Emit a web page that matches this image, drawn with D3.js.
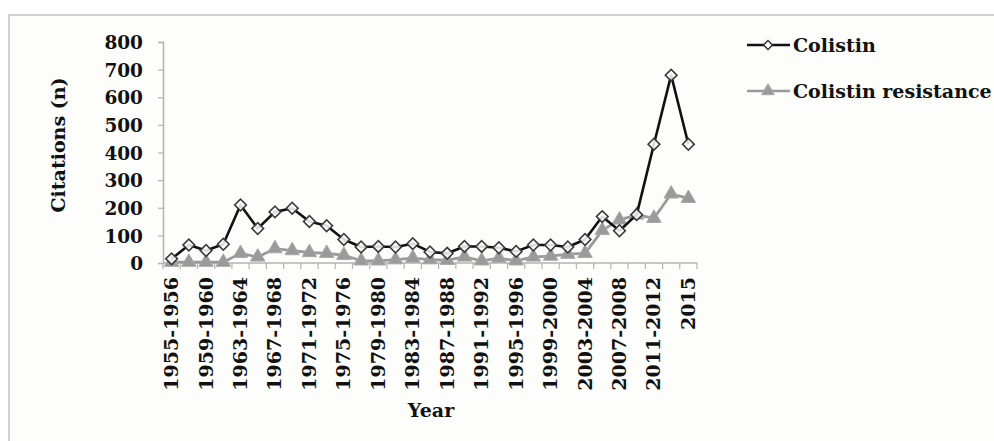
<!DOCTYPE html>
<html>
<head>
<meta charset="utf-8">
<script src="https://cdn.jsdelivr.net/npm/d3@7"></script>
<style>
  html, body { margin: 0; padding: 0; background: #ffffff; }
  svg { display: block; }
  text { font-family: "DejaVu Serif", serif; font-weight: bold; fill: #111; }
</style>
</head>
<body>
<svg id="chart" width="994" height="441"></svg>
<script>
const categories = ["1955-1956","1957-1958","1959-1960","1961-1962","1963-1964","1965-1966","1967-1968","1969-1970","1971-1972","1973-1974","1975-1976","1977-1978","1979-1980","1981-1982","1983-1984","1985-1986","1987-1988","1989-1990","1991-1992","1993-1994","1995-1996","1997-1998","1999-2000","2001-2002","2003-2004","2005-2006","2007-2008","2009-2010","2011-2012","2013-2014","2015"];
const colistin = [15, 65, 45, 68, 210, 125, 185, 198, 150, 135, 85, 58, 60, 58, 70, 40, 35, 60, 60, 55, 42, 65, 65, 58, 85, 168, 117, 175, 430, 680, 430];
const colistinResistance = [3, 3, 3, 3, 35, 22, 52, 45, 38, 35, 28, 8, 8, 12, 18, 12, 10, 22, 8, 18, 8, 22, 25, 32, 35, 118, 156, 174, 162, 250, 234];
const yTicks = [0, 100, 200, 300, 400, 500, 600, 700, 800];
const seriesNames = ["Colistin", "Colistin resistance"];

const svg = d3.select("#chart");

// outer frame
svg.append("rect").attr("x", 9).attr("y", 15).attr("width", 1000).attr("height", 440)
  .attr("fill", "#fdfdfb").attr("stroke", "#c4c4c4").attr("stroke-width", 1.5);

const pLeft = 163, pRight = 697, pTop = 42, pBottom = 263;

const x = d3.scaleBand().domain(categories).range([pLeft, pRight]).padding(0);
const y = d3.scaleLinear().domain([0, 800]).range([pBottom, pTop]);
const cx = d => x(d) + x.bandwidth() / 2;

// Y axis
const yAxis = d3.axisLeft(y).tickValues(yTicks).tickSize(5).tickPadding(15).tickFormat(d3.format("d"));
const gy = svg.append("g").attr("transform", `translate(${pLeft},0)`).call(yAxis);
gy.select(".domain").attr("stroke", "#b3b3b3").attr("stroke-width", 1.5);
gy.selectAll(".tick line").attr("stroke", "#b3b3b3").attr("stroke-width", 1.2);
gy.selectAll(".tick text").style("font-size", "18.5px").attr("fill", "#111").attr("dy", "0.36em");

// X axis (tick marks between categories, Excel style)
const gx = svg.append("g").attr("transform", `translate(0,${pBottom})`);
gx.append("line").attr("x1", pLeft).attr("x2", pRight).attr("y1", 0).attr("y2", 0)
  .attr("stroke", "#b3b3b3").attr("stroke-width", 1.5);
const boundaries = categories.map(c => x(c)).concat([pRight]);
gx.selectAll("line.tk").data(boundaries).enter().append("line").attr("class", "tk")
  .attr("x1", d => d).attr("x2", d => d).attr("y1", 0).attr("y2", 6)
  .attr("stroke", "#b3b3b3").attr("stroke-width", 1.2);
gx.selectAll("text.xl").data(categories.filter((c, i) => i % 2 === 0)).enter().append("text")
  .attr("class", "xl")
  .attr("transform", d => `translate(${cx(d) + 6.5},${14}) rotate(-90)`)
  .attr("text-anchor", "end")
  .style("font-size", "19px")
  .text(d => d);

// axis titles
svg.append("text").attr("x", 431).attr("y", 417).attr("text-anchor", "middle")
  .style("font-size", "19px").text("Year");
svg.append("text").attr("transform", `translate(65,145) rotate(-90)`)
  .attr("text-anchor", "middle").style("font-size", "19px").text("Citations (n)");

const line = d3.line().x((d, i) => cx(categories[i])).y(d => y(d));

// Resistance series (drawn first, behind)
svg.append("path").datum(colistinResistance).attr("d", line)
  .attr("fill", "none").attr("stroke", "#9a9a9a").attr("stroke-width", 2.8).attr("stroke-linejoin", "round");
const tri = d3.symbol().type(d3.symbolTriangle).size(90);
svg.selectAll("path.tri").data(colistinResistance).enter().append("path").attr("class", "tri")
  .attr("d", tri).attr("transform", (d, i) => `translate(${cx(categories[i])},${y(d)})`)
  .attr("fill", "#9a9a9a").attr("stroke", "#a8a8a8").attr("stroke-width", 1);

// Colistin series
svg.append("path").datum(colistin).attr("d", line)
  .attr("fill", "none").attr("stroke", "#111").attr("stroke-width", 2.6).attr("stroke-linejoin", "round");
const dia = d3.symbol().type(d3.symbolSquare).size(68);
svg.selectAll("path.dia").data(colistin).enter().append("path").attr("class", "dia")
  .attr("d", dia).attr("transform", (d, i) => `translate(${cx(categories[i])},${y(d)}) rotate(45)`)
  .attr("fill", "#ffffff").attr("fill-opacity", 0.85).attr("stroke", "#3a3a3a").attr("stroke-width", 1.6);

// Legend
const lg = svg.append("g");
const legendRows = [
  { name: seriesNames[0], y: 45, stroke: "#111", marker: "dia" },
  { name: seriesNames[1], y: 91, stroke: "#9a9a9a", marker: "tri" }
];
legendRows.forEach(r => {
  lg.append("line").attr("x1", 747).attr("x2", 790).attr("y1", r.y).attr("y2", r.y)
    .attr("stroke", r.stroke).attr("stroke-width", 2.6);
  if (r.marker === "dia") {
    lg.append("path").attr("d", d3.symbol().type(d3.symbolSquare).size(40)).attr("transform", `translate(768,${r.y}) rotate(45)`)
      .attr("fill", "#fff").attr("stroke", "#333").attr("stroke-width", 1.5);
  } else {
    lg.append("path").attr("d", d3.symbol().type(d3.symbolTriangle).size(70)).attr("transform", `translate(768,${r.y})`)
      .attr("fill", "#9a9a9a").attr("stroke", "#a8a8a8");
  }
  lg.append("text").attr("x", 793).attr("y", r.y + 7).style("font-size", "19px").text(r.name);
});
</script>
</body>
</html>
